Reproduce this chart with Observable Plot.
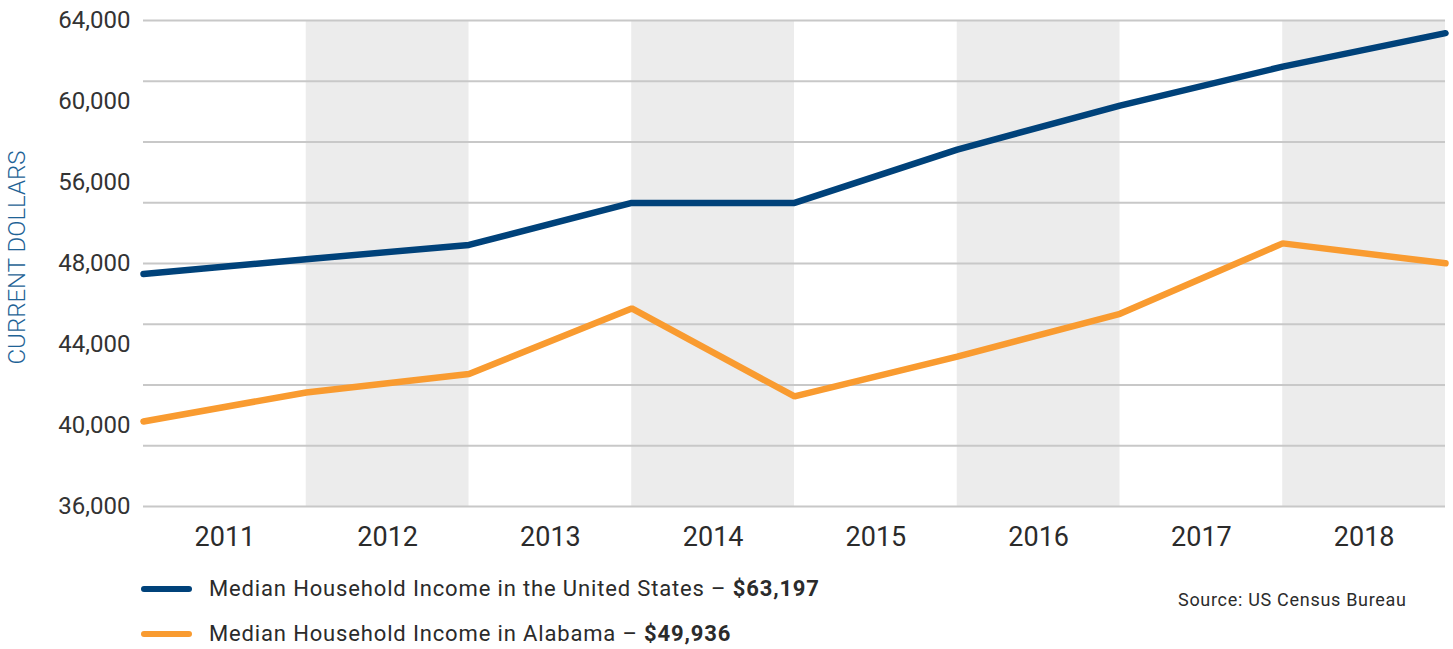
<!DOCTYPE html>
<html>
<head>
<meta charset="utf-8">
<script src="https://cdn.jsdelivr.net/npm/d3@7"></script>
<script src="https://cdn.jsdelivr.net/npm/@observablehq/plot@0.6"></script>
<style>
  html, body { margin: 0; padding: 0; background: #fff; }
  body { width: 1453px; height: 649px; overflow: hidden; font-family: Roboto, sans-serif; }
  #legend { position: relative; width: 1453px; height: 89px; color: #2b2b2b; }
  .sw { position: absolute; left: 141px; width: 51px; height: 6.5px; border-radius: 3.5px; }
  .lt { position: absolute; left: 209px; font-size: 22px; line-height: 26px; letter-spacing: 0.85px; white-space: nowrap; }
  .src { position: absolute; left: 1178px; top: 29px; font-size: 18px; line-height: 22px; letter-spacing: 0.7px; white-space: nowrap; }
</style>
</head>
<body>
<div id="chart"></div>
<div id="legend"></div>
<script>
// ---- data ----
const years = [2010, 2011, 2012, 2013, 2014, 2015, 2016, 2017, 2018];
const usIncome = [49400, 50250, 51070, 53490, 53490, 56560, 59100, 61340, 63270];
const alabamaIncome = [40900, 42570, 43630, 47410, 42340, 44630, 47100, 51160, 50010];

const yearLabels = [2011, 2012, 2013, 2014, 2015, 2016, 2017, 2018];
const shadedYears = [2012, 2014, 2016, 2018];
const yDomain = [36000, 64000];
const gridValues = [36000, 39500, 43000, 46500, 50000, 53500, 57000, 60500, 64000];
const yTickLabels = ["36,000", "40,000", "44,000", "48,000", "56,000", "60,000", "64,000"];

const seriesNames = ["Median Household Income in the United States", "Median Household Income in Alabama"];
const seriesTotals = ["$63,197", "$49,936"];
const seriesColors = ["#00427a", "#f99b30"];
const axisTitle = "CURRENT DOLLARS";
const sourceText = "Source: US Census Bureau";

// ---- derived tables ----
const usData = years.map((year, i) => ({year, value: usIncome[i]}));
const alData = years.map((year, i) => ({year, value: alabamaIncome[i]}));
const yTicks = yTickLabels.map((label, i) => ({
  label,
  value: yDomain[0] + i * (yDomain[1] - yDomain[0]) / (yTickLabels.length - 1)
}));

const chart = Plot.plot({
  width: 1453,
  height: 560,
  marginLeft: 143,
  marginRight: 8,
  marginTop: 20,
  marginBottom: 54,
  x: {domain: [years[0], years[years.length - 1]], axis: null},
  y: {domain: yDomain, axis: null},
  style: {fontFamily: "Roboto, sans-serif", background: "white", overflow: "visible"},
  marks: [
    Plot.rect(shadedYears, {
      x1: d => d - 1, x2: d => d,
      y1: () => yDomain[0], y2: () => yDomain[1],
      fill: "#ececec"
    }),
    Plot.ruleY(gridValues, {stroke: "#c8c8c8", strokeWidth: 2}),
    Plot.line(alData, {x: "year", y: "value", stroke: seriesColors[1], strokeWidth: 6.5, strokeLinecap: "round", strokeLinejoin: "miter"}),
    Plot.line(usData, {x: "year", y: "value", stroke: seriesColors[0], strokeWidth: 6.5, strokeLinecap: "round", strokeLinejoin: "miter"}),
    Plot.text(yTicks, {
      y: "value", text: "label", frameAnchor: "left", dx: -13,
      textAnchor: "end", lineAnchor: "middle", fontSize: 24, fill: "#333"
    }),
    Plot.text(yearLabels, {
      x: d => d - 0.5, text: d => String(d), frameAnchor: "bottom", dy: 31,
      lineAnchor: "middle", fontSize: 27, fill: "#2b2b2b"
    }),
    Plot.text([axisTitle], {
      frameAnchor: "left", dx: -126, dy: -6, rotate: -90,
      textAnchor: "middle", lineAnchor: "middle",
      fontSize: 24, fontWeight: 300, fill: "#1f6396"
    })
  ]
});
document.getElementById("chart").appendChild(chart);

// ---- legend below the SVG ----
const legend = document.getElementById("legend");
const rowCenters = [29, 74];
seriesNames.forEach((name, i) => {
  const sw = document.createElement("div");
  sw.className = "sw";
  sw.style.background = seriesColors[i];
  sw.style.top = (rowCenters[i] - 3.25) + "px";
  legend.appendChild(sw);
  const t = document.createElement("div");
  t.className = "lt";
  t.style.top = (rowCenters[i] - 13) + "px";
  t.innerHTML = name + " \u2013 <b>" + seriesTotals[i] + "</b>";
  legend.appendChild(t);
});
const src = document.createElement("div");
src.className = "src";
src.textContent = sourceText;
legend.appendChild(src);
</script>
</body>
</html>
